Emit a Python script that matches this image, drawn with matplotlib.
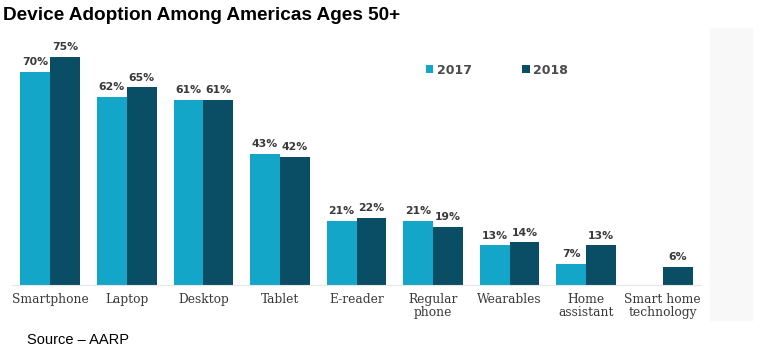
import matplotlib.pyplot as plt
import numpy as np

categories = ["Smartphone", "Laptop", "Desktop", "Tablet", "E-reader",
              "Regular\nphone", "Wearables", "Home\nassistant", "Smart home\ntechnology"]
y2017 = [70, 62, 61, 43, 21, 21, 13, 7, None]
y2018 = [75, 65, 61, 42, 22, 19, 14, 13, 6]

c2017 = "#13a6c8"
c2018 = "#0a4e65"
txt = "#3a3a3a"

fig = plt.figure(figsize=(7.63, 3.54), dpi=100)
W, H = 763, 354
# light grey panel on the right
fig.patches.append(plt.Rectangle((710 / W, 1 - 320 / H), 42 / W, 292 / H,
                                 transform=fig.transFigure, color="#f8f8f8", zorder=0))

ax = fig.add_axes([12 / W, 1 - 285 / H, (701 - 12) / W, (285 - 30) / H])
x = np.arange(len(categories))
w = 0.39
v17 = [np.nan if v is None else v for v in y2017]
ax.bar(x - w / 2, v17, w, color=c2017, label="2017")
ax.bar(x + w / 2, y2018, w, color=c2018, label="2018")

for i in range(len(categories)):
    if y2017[i] is not None:
        ax.text(x[i] - w / 2, y2017[i] + 1.6, f"{y2017[i]}%", ha="center", va="bottom",
                fontsize=7.8, fontweight="bold", color=txt, family="DejaVu Sans")
    ax.text(x[i] + w / 2, y2018[i] + 1.6, f"{y2018[i]}%", ha="center", va="bottom",
            fontsize=7.8, fontweight="bold", color=txt, family="DejaVu Sans")

ax.set_xlim(-0.5, len(categories) - 0.5)
ax.set_ylim(0, (285 - 30) / 3.04)
ax.set_xticks(x)
ax.set_xticklabels(categories, fontsize=8.8, color=txt, family="DejaVu Serif", linespacing=1.0)
ax.tick_params(axis="x", length=0, pad=6)
ax.set_yticks([])
for s in ["top", "right", "left"]:
    ax.spines[s].set_visible(False)
ax.spines["bottom"].set_color("#e6e6e6")

leg = ax.legend(loc="center left", bbox_to_anchor=(426 / W, 1 - 70 / H),
                bbox_transform=fig.transFigure, ncol=2, frameon=False,
                borderpad=0, borderaxespad=0,
                handlelength=0.6, handleheight=0.6, handletextpad=0.3, columnspacing=4.0,
                prop={"family": "DejaVu Sans", "size": 9, "weight": "bold"})
for t in leg.get_texts():
    t.set_color("#4a4a4a")

fig.text(3 / W, 1 - 15 / H, "Device Adoption Among Americas Ages 50+", fontsize=13.7,
         fontweight="bold", family="Liberation Sans", va="center", ha="left", color="black")
fig.text(27 / W, 1 - 340 / H, "Source \u2013 AARP", fontsize=10.5, family="Liberation Sans",
         va="center", ha="left", color="black")

fig.savefig("out.png", dpi=100)
